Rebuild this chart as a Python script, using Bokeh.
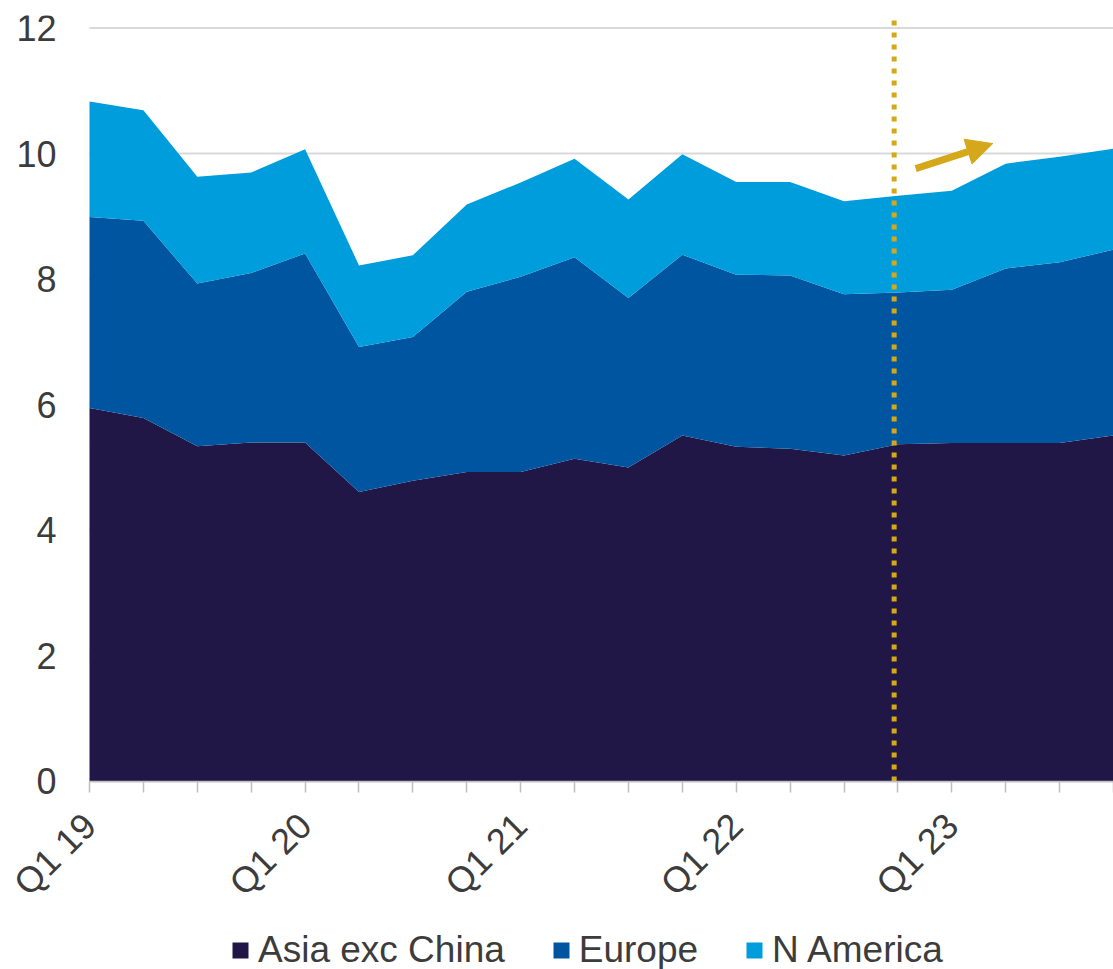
import math

from bokeh.embed import file_html
from bokeh.models import (Arrow, ColumnDataSource, FixedTicker, Legend,
                          LegendItem, NormalHead, Range1d)
from bokeh.plotting import figure
from bokeh.resources import INLINE

# Quarterly volumes by region, Q1 2019 to Q4 2023
quarters = ["Q1 19", "Q2 19", "Q3 19", "Q4 19",
            "Q1 20", "Q2 20", "Q3 20", "Q4 20",
            "Q1 21", "Q2 21", "Q3 21", "Q4 21",
            "Q1 22", "Q2 22", "Q3 22", "Q4 22",
            "Q1 23", "Q2 23", "Q3 23", "Q4 23"]
asia_exc_china = [5.95, 5.79, 5.34, 5.40, 5.40, 4.61, 4.79, 4.93, 4.93, 5.14,
                  5.00, 5.51, 5.33, 5.30, 5.19, 5.37, 5.39, 5.39, 5.39, 5.51]
europe = [3.04, 3.14, 2.59, 2.70, 3.01, 2.31, 2.29, 2.87, 3.11, 3.21,
          2.70, 2.88, 2.74, 2.76, 2.57, 2.42, 2.44, 2.78, 2.88, 2.96]
n_america = [1.84, 1.76, 1.70, 1.60, 1.66, 1.30, 1.30, 1.39, 1.50, 1.57,
             1.57, 1.60, 1.48, 1.49, 1.48, 1.54, 1.58, 1.67, 1.68, 1.61]
series_names = ["Asia exc China", "Europe", "N America"]
y_ticks = [0, 2, 4, 6, 8, 10, 12]

# Marker for the latest reported quarter and the trend arrow after it
marker_x = 14.93
arrow_start = (15.33, 9.76)
arrow_end = (16.76, 10.16)

colors = ["#201747", "#0055A1", "#009DDC"]
gold = "#D5A81B"
grid_color = "#d9d9d9"
text_color = "#3c3c3c"
font = "Liberation Sans"

# The frame spans the whole page; the extra room left of x = 0 holds the
# value labels, the room under y = 0 the quarter labels and the legend.
X_LEFT = -1.6514
Y_TOP = 12.2
Y_BOTTOM = -2.995

xs = list(range(len(quarters)))
x_last = len(quarters) - 1
source = ColumnDataSource(dict(x=xs, asia=asia_exc_china, europe=europe,
                               namerica=n_america))

p = figure(width=1113, height=969, output_backend="svg",
           toolbar_location=None,
           x_range=Range1d(X_LEFT, x_last), y_range=Range1d(Y_BOTTOM, Y_TOP),
           min_border_left=0, min_border_right=0, min_border_top=15,
           min_border_bottom=0)
p.outline_line_color = None
p.background_fill_color = "white"
p.border_fill_color = "white"
p.xgrid.visible = False
p.ygrid.visible = False

# Horizontal gridlines across the data area, under the areas
p.segment(x0=[0] * len(y_ticks), y0=y_ticks, x1=[x_last] * len(y_ticks),
          y1=y_ticks, line_color=grid_color, line_width=2)

renderers = p.varea_stack(["asia", "europe", "namerica"], x="x",
                          color=colors, source=source)

# Y axis at x = 0: labels only
p.yaxis.fixed_location = 0
p.yaxis.ticker = FixedTicker(ticks=y_ticks)
p.yaxis.axis_line_color = None
p.yaxis.major_tick_line_color = None
p.yaxis.minor_tick_line_color = None
p.yaxis.major_tick_in = 0
p.yaxis.major_tick_out = 0
p.yaxis.major_label_standoff = 33
p.yaxis.major_label_text_font = font
p.yaxis.major_label_text_font_size = "36px"
p.yaxis.major_label_text_color = text_color

# X axis at y = 0 over the data span: a tick every quarter,
# a label every first quarter
p.xaxis.fixed_location = 0
p.xaxis.bounds = (0, x_last)
p.xaxis.ticker = FixedTicker(ticks=xs)
p.xaxis.major_label_overrides = {i: (q if q.startswith("Q1") else "")
                                 for i, q in enumerate(quarters)}
p.xaxis.major_label_orientation = math.pi / 4
p.xaxis.axis_line_color = "#bfbfbf"
p.xaxis.axis_line_width = 1.5
p.xaxis.major_tick_line_color = "#bfbfbf"
p.xaxis.major_tick_line_width = 1.5
p.xaxis.major_tick_in = 0
p.xaxis.major_tick_out = 11
p.xaxis.minor_tick_line_color = None
p.xaxis.major_label_standoff = 27
p.xaxis.major_label_text_font = font
p.xaxis.major_label_text_font_size = "36px"
p.xaxis.major_label_text_color = text_color

# Dotted marker line and trend arrow
p.segment(x0=[marker_x], y0=[0], x1=[marker_x], y1=[Y_TOP], line_color=gold,
          line_width=5, line_dash="5 7")
p.add_layout(Arrow(x_start=arrow_start[0], y_start=arrow_start[1],
                   x_end=arrow_end[0], y_end=arrow_end[1],
                   line_color=gold, line_width=7,
                   end=NormalHead(size=26, fill_color=gold, line_color=gold)))

# Legend under the quarter labels, positioned in screen units from the frame
legend = Legend(items=[LegendItem(label=n, renderers=[r])
                       for n, r in zip(series_names, renderers)],
                orientation="horizontal", location=(230, -2),
                label_text_font=font, label_text_font_size="37px",
                label_text_color=text_color, glyph_width=20, glyph_height=20,
                label_standoff=8, spacing=46, padding=0, margin=0,
                border_line_color=None, background_fill_alpha=0)
p.add_layout(legend, "center")

open("out.html", "w").write(file_html(p, INLINE))
